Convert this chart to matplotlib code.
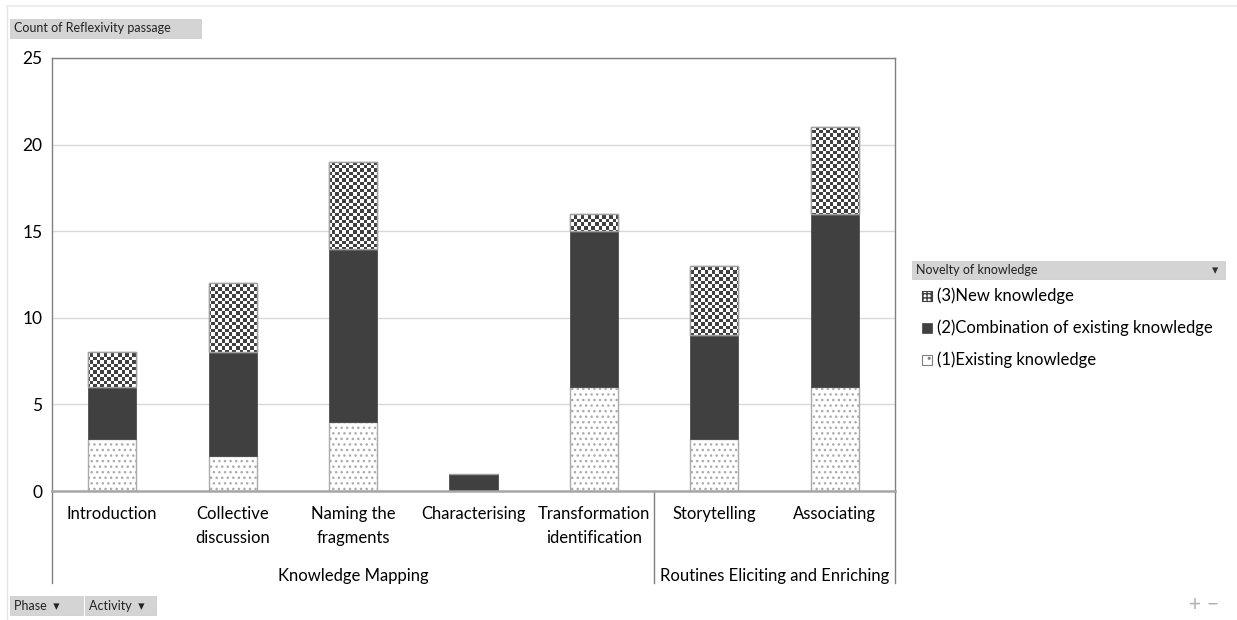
import numpy as np
import matplotlib.pyplot as plt
from matplotlib.patches import Rectangle
from matplotlib.colors import ListedColormap
from matplotlib.transforms import blended_transform_factory

plt.rcParams['font.family'] = ['Lato', 'DejaVu Sans']
plt.rcParams['hatch.linewidth'] = 1.0

# data
activities = ['Introduction', 'Collective\ndiscussion', 'Naming the\nfragments',
              'Characterising', 'Transformation\nidentification', 'Storytelling', 'Associating']
phases = ['Knowledge Mapping', 'Routines Eliciting and Enriching']
phase_sizes = [5, 2]
existing = [3, 2, 4, 0, 6, 3, 6]
combination = [3, 6, 10, 1, 9, 6, 10]
new = [2, 4, 5, 0, 1, 4, 5]
series_names = ['(3)New knowledge', '(2)Combination of existing knowledge', '(1)Existing knowledge']

W, H = 1237, 620
fig = plt.figure(figsize=(W / 100, H / 100), dpi=100)
ax = fig.add_axes([52 / W, 1 - 491 / H, (895 - 52) / W, (491 - 58) / H])

x = np.arange(len(activities))
bw = 0.4
b1 = ax.bar(x, existing, bw, color='white', edgecolor='#ababab', hatch='...', lw=1, zorder=3)
b2 = ax.bar(x, combination, bw, bottom=existing, color='#404040', edgecolor='#404040', lw=0.5, zorder=3)
bottom3 = np.array(existing) + np.array(combination)
b3 = ax.bar(x, new, bw, bottom=bottom3, color='white', edgecolor='#a0a0a0', lw=1, zorder=3)

# checkerboard fill for new knowledge
ny, nx = 126, 244
checker = (np.indices((ny, nx)).sum(axis=0) % 2).astype(float)
cmap = ListedColormap(['white', '#404040'])
for p, v in zip(b3, new):
    if v == 0:
        continue
    im = ax.imshow(checker, cmap=cmap, extent=(-0.5, 6.5, 0, 25), aspect='auto',
                   interpolation='nearest', vmin=0, vmax=1, zorder=3.5)
    im.set_clip_path(p)
    edge = Rectangle(p.get_xy(), p.get_width(), p.get_height(), fill=False,
                     edgecolor='#a0a0a0', lw=1, zorder=4)
    ax.add_patch(edge)

ax.set_xlim(-0.5, 6.5)
ax.set_ylim(0, 25)
ax.set_yticks([0, 5, 10, 15, 20, 25])
ax.set_yticklabels(['0', '5', '10', '15', '20', '25'], fontsize=12.5)
ax.tick_params(axis='y', length=0, pad=7)
ax.set_xticks([])
ax.grid(axis='y', color='#d9d9d9', lw=1, zorder=0)
for s in ['left', 'top', 'right']:
    ax.spines[s].set_color('#808080')
    ax.spines[s].set_linewidth(1)
ax.spines['bottom'].set_color('#a6a6a6')
ax.spines['bottom'].set_linewidth(1.8)
ax.spines['bottom'].set_zorder(5)

# multi-level category axis
tr = blended_transform_factory(ax.transData, ax.transAxes)
low = -(583 - 491) / 433
bounds = np.concatenate([[0], np.cumsum(phase_sizes)]) - 0.5
for b in bounds:
    ax.plot([b, b], [0, low], transform=tr, color='#808080', lw=1, clip_on=False)
for i, lab in enumerate(activities):
    ax.text(i, -(506 - 491) / 433, lab, transform=tr, ha='center', va='top',
            fontsize=12, linespacing=1.6)
for k, ph in enumerate(phases):
    ax.text((bounds[k] + bounds[k + 1]) / 2, -(576 - 491) / 433, ph, transform=tr,
            ha='center', va='center', fontsize=12)


def button(x0, y0, w, h, label, fs=8.5):
    fig.patches.append(Rectangle((x0 / W, 1 - (y0 + h) / H), w / W, h / H, transform=fig.transFigure,
                                 facecolor='#d4d4d4', edgecolor='#c8c8c8', lw=0.5))
    fig.text((x0 + 4) / W, 1 - (y0 + h / 2) / H, label, fontsize=fs, va='center', ha='left', color='#222222')


# field buttons
button(10, 19, 191, 19, 'Count of Reflexivity passage', fs=9)
button(10, 596, 73, 19, 'Phase  \u25be', fs=9)
button(85, 596, 71, 19, 'Activity  \u25be', fs=9)
fig.text(1195 / W, 1 - 605 / H, '+', fontsize=15, color='#b0b0b0', ha='center', va='center')
fig.text(1213 / W, 1 - 605 / H, '\u2212', fontsize=15, color='#b0b0b0', ha='center', va='center')
fig.add_artist(plt.Line2D([7 / W, 7 / W], [0, 1 - 6 / H], transform=fig.transFigure, color='#e6e6e6', lw=1))
fig.add_artist(plt.Line2D([7 / W, 1], [1 - 6 / H, 1 - 6 / H], transform=fig.transFigure, color='#ececec', lw=1.5))

# legend
button(912, 261, 313, 18, 'Novelty of knowledge', fs=9)
fig.text(1215 / W, 1 - 270 / H, '\u25be', fontsize=9, color='#333333', ha='center', va='center')
leg_y = [296, 328, 360]
for yy, name, kind in zip(leg_y, series_names, ['new', 'comb', 'exist']):
    rx, ry, s = 922, yy - 5, 10
    if kind == 'comb':
        r = Rectangle((rx / W, 1 - (ry + s) / H), s / W, s / H, transform=fig.transFigure,
                      facecolor='#404040', edgecolor='#404040', lw=0.5)
    elif kind == 'new':
        r = Rectangle((rx / W, 1 - (ry + s) / H), s / W, s / H, transform=fig.transFigure,
                      facecolor='white', edgecolor='#404040', hatch='++++', lw=0.8)
    else:
        r = Rectangle((rx / W, 1 - (ry + s) / H), s / W, s / H, transform=fig.transFigure,
                      facecolor='white', edgecolor='#808080', hatch='..', lw=0.8)
    fig.patches.append(r)
    fig.text(937 / W, 1 - yy / H, name, fontsize=12, va='center', ha='left')

fig.savefig('out.png', dpi=100)
